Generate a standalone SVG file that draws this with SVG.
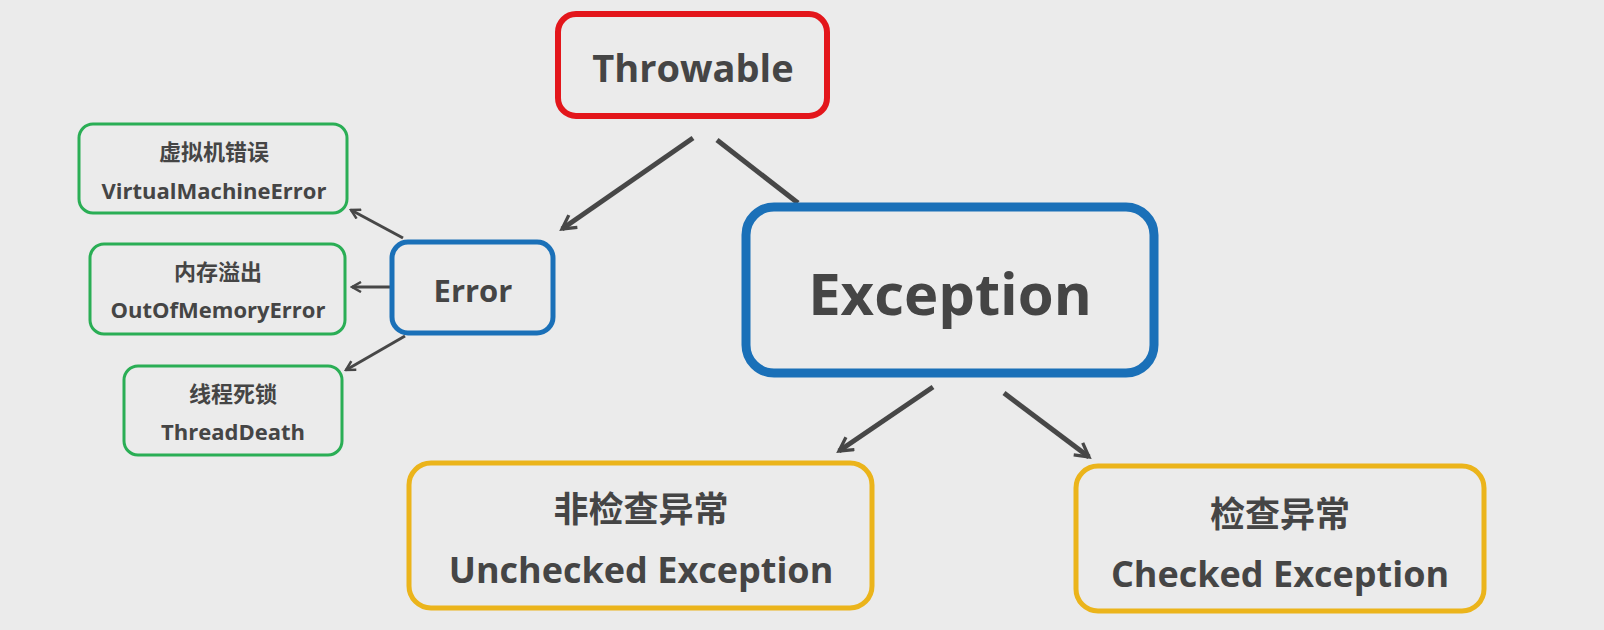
<svg xmlns="http://www.w3.org/2000/svg" width="1604" height="630" viewBox="0 0 1604 630">
<defs>
<style>
.t{font-family:"Open Sans","Noto Sans CJK SC",sans-serif;font-weight:bold;fill:#454545;text-anchor:middle}
.c{font-family:"Noto Sans CJK SC","Open Sans",sans-serif;font-weight:bold;fill:#454545;text-anchor:middle}
.box{fill:none}
.red{stroke:#e3161b;stroke-width:6}
.blue{stroke:#1a70b8}
.green{stroke:#2aae55;stroke-width:3}
.yellow{stroke:#ebb41b;stroke-width:5}
.ln{stroke:#474747;fill:none;stroke-linecap:butt}
</style>
<marker id="ah" viewBox="0 0 12 12" refX="10" refY="6" markerWidth="12" markerHeight="12" markerUnits="userSpaceOnUse" orient="auto">
<path d="M1,1 L10,6 L1,11" fill="none" stroke="#474747" stroke-width="2.5"/>
</marker>
<marker id="ahb" viewBox="0 0 12 12" refX="10" refY="6" markerWidth="18" markerHeight="18" markerUnits="userSpaceOnUse" orient="auto">
<path d="M1,1 L10,6 L1,11" fill="none" stroke="#474747" stroke-width="2.2"/>
</marker>
</defs>
<rect width="1604" height="630" fill="#ebebeb"/>
<g id="connectors">
<line class="ln" x1="693" y1="138" x2="562" y2="229" stroke-width="5" marker-end="url(#ahb)"/>
<line class="ln" x1="717" y1="140" x2="798" y2="203" stroke-width="5"/>
<line class="ln" x1="403" y1="238" x2="351" y2="210" stroke-width="3" marker-end="url(#ah)"/>
<line class="ln" x1="390" y1="287" x2="352" y2="287" stroke-width="3" marker-end="url(#ah)"/>
<line class="ln" x1="405" y1="336" x2="346" y2="370" stroke-width="3" marker-end="url(#ah)"/>
<line class="ln" x1="933" y1="387" x2="839" y2="451" stroke-width="5" marker-end="url(#ahb)"/>
<line class="ln" x1="1004" y1="393" x2="1089" y2="457" stroke-width="5" marker-end="url(#ahb)"/>
</g>
<g id="throwable">
<rect class="box red" x="558" y="14" width="269" height="102" rx="18"/>
<text class="t" x="693" y="82" font-size="38">Throwable</text>
</g>
<g id="error">
<rect class="box blue" x="392" y="242" width="161" height="91" rx="16" stroke-width="5"/>
<text class="t" x="473" y="302" font-size="31">Error</text>
</g>
<g id="exception">
<rect class="box blue" x="746" y="207" width="408" height="166" rx="28" stroke-width="9"/>
<text class="t" x="950" y="315" font-size="58">Exception</text>
</g>
<g id="vme">
<rect class="box green" x="79" y="124" width="268" height="89" rx="14"/>
<text class="c" x="214" y="160" font-size="22">虚拟机错误</text>
<text class="t" x="214" y="199" font-size="22">VirtualMachineError</text>
</g>
<g id="oom">
<rect class="box green" x="90" y="244" width="255" height="90" rx="14"/>
<text class="c" x="218" y="280" font-size="22">内存溢出</text>
<text class="t" x="218" y="318" font-size="22">OutOfMemoryError</text>
</g>
<g id="threaddeath">
<rect class="box green" x="124" y="366" width="218" height="89" rx="14"/>
<text class="c" x="233" y="402" font-size="22">线程死锁</text>
<text class="t" x="233" y="440" font-size="22">ThreadDeath</text>
</g>
<g id="unchecked">
<rect class="box yellow" x="409" y="463" width="463" height="145" rx="22"/>
<text class="c" x="641" y="522" font-size="35">非检查异常</text>
<text class="t" x="641" y="583" font-size="36">Unchecked Exception</text>
</g>
<g id="checked">
<rect class="box yellow" x="1076" y="466" width="408" height="145" rx="22"/>
<text class="c" x="1280" y="527" font-size="35">检查异常</text>
<text class="t" x="1280" y="587" font-size="36">Checked Exception</text>
</g>
</svg>
